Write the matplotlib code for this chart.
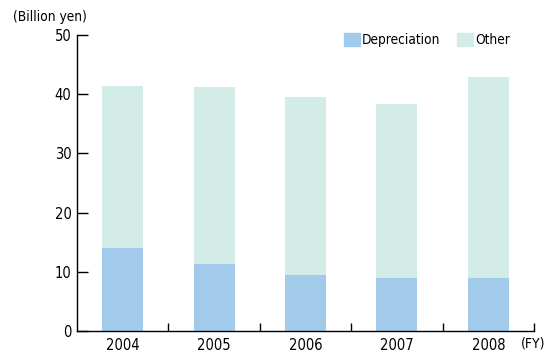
import matplotlib
matplotlib.use("Agg")
import matplotlib.pyplot as plt
from matplotlib.patches import Patch

years = ["2004", "2005", "2006", "2007", "2008"]
depreciation = [14.0, 11.3, 9.5, 9.0, 9.0]
total = [41.4, 41.2, 39.5, 38.3, 42.9]
other = [t - d for t, d in zip(total, depreciation)]

plt.rcParams["font.family"] = ["DejaVu Sans"]
plt.rcParams["font.stretch"] = "condensed"

c_dep = "#A2CBEB"
c_oth = "#D4ECE8"

fig = plt.figure(figsize=(5.48, 3.53), dpi=100)
ax = fig.add_axes([0.1405, 0.0623, 0.9745 - 0.1405, 0.9008 - 0.0623])
x = list(range(len(years)))
ax.bar(x, depreciation, width=0.45, color=c_dep, linewidth=0)
ax.bar(x, other, bottom=depreciation, width=0.45, color=c_oth, linewidth=0)

ax.set_xlim(-0.5, 4.5)
ax.set_ylim(0, 50)
ax.set_yticks([0, 10, 20, 30, 40, 50])
ax.set_xticks(x)
ax.set_xticklabels(years, fontsize=10.5)
ax.set_xticks([0.5, 1.5, 2.5, 3.5, 4.5], minor=True)
ax.tick_params(axis="x", which="major", length=0, pad=5)
ax.tick_params(axis="x", which="minor", direction="in", length=6, width=1)
ax.tick_params(axis="y", direction="in", length=8, width=1, labelsize=10.5, pad=4)
for s in ["top", "right"]:
    ax.spines[s].set_visible(False)
for s in ["left", "bottom"]:
    ax.spines[s].set_linewidth(1)

fig.text(0.024, 0.952, "(Billion yen)", fontsize=9.8, ha="left", va="center")
fig.text(0.995, 0.028, "(FY)", fontsize=10, ha="right", va="center")

handles = [Patch(color=c_dep, label="Depreciation"), Patch(color=c_oth, label="Other")]
ax.legend(handles=handles, loc="center right", bbox_to_anchor=(0.948, 0.983), ncol=2, frameon=False,
          fontsize=9.8, handlelength=1.2, handleheight=1.05, handletextpad=0.15, columnspacing=1.2,
          borderpad=0, borderaxespad=0)

fig.savefig("out.png", dpi=100)
